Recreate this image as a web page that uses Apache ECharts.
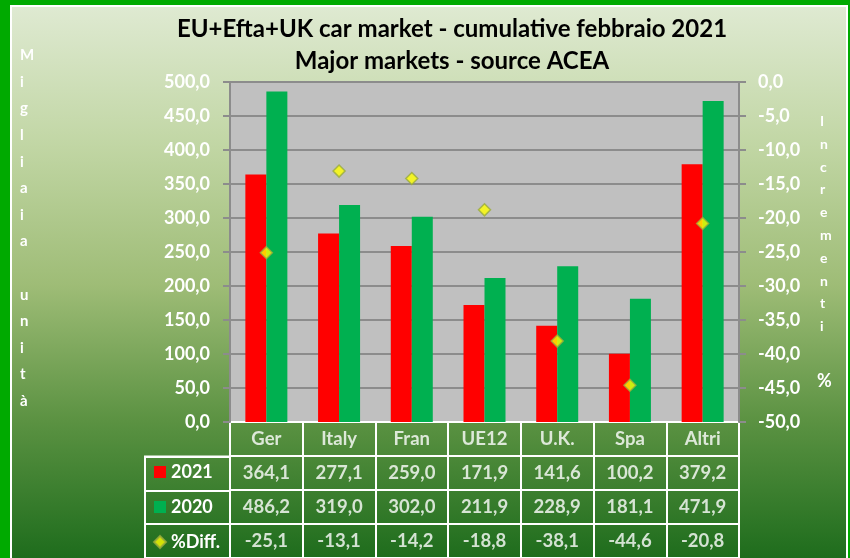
<!DOCTYPE html>
<html>
<head>
<meta charset="utf-8">
<script src="https://cdn.jsdelivr.net/npm/echarts@6/dist/echarts.min.js"></script>
<style>
  html, body { margin: 0; padding: 0; }
  #chart { width: 850px; height: 558px; }
</style>
</head>
<body>
<div id="chart"></div>
<script>
const categories = ["Ger", "Italy", "Fran", "UE12", "U.K.", "Spa", "Altri"];
const values2021 = [364.1, 277.1, 259.0, 171.9, 141.6, 100.2, 379.2];
const values2020 = [486.2, 319.0, 302.0, 211.9, 228.9, 181.1, 471.9];
const diffPct = [-25.1, -13.1, -14.2, -18.8, -38.1, -44.6, -20.8];
const rowNames = ["2021", "2020", "%Diff."];

const fontFamily = "Lato, 'Open Sans', sans-serif";
const fmt = (v) => Number(v).toFixed(1).replace(".", ",");

// celle della tabella sotto al grafico
const tableCells = [];
categories.forEach((cat, i) => {
  tableCells.push([cat, "h", cat]);
  tableCells.push([cat, "r21", fmt(values2021[i])]);
  tableCells.push([cat, "r20", fmt(values2020[i])]);
  tableCells.push([cat, "rd", fmt(diffPct[i])]);
});

const chart = echarts.init(document.getElementById("chart"));

const option = {
  backgroundColor: "#00aa00",
  animation: false,
  textStyle: { fontFamily: fontFamily },
  graphic: [
    {
      type: "rect",
      z: -100,
      shape: { x: 11, y: 6, width: 836, height: 560 },
      style: {
        stroke: "#ffffff",
        lineWidth: 2,
        fill: new echarts.graphic.LinearGradient(0, 0, 0, 1, [
          { offset: 0, color: "#dfead2" },
          { offset: 0.25, color: "#c1d6a4" },
          { offset: 0.5, color: "#9ebc76" },
          { offset: 0.74, color: "#5b9242" },
          { offset: 1, color: "#1a6a1a" },
        ]),
      },
    },
    {
      type: "text",
      left: 20,
      top: 42,
      style: {
        text: "M\ni\ng\nl\ni\na\ni\na\n \nu\nn\ni\nt\nà",
        fill: "#ffffff",
        font: "bold 15px " + fontFamily,
        align: "center",
        lineHeight: 26.6,
      },
    },
    {
      type: "text",
      left: 820,
      top: 110,
      style: {
        text: "I\nn\nc\nr\ne\nm\ne\nn\nt\ni",
        fill: "#ffffff",
        font: "bold 14px " + fontFamily,
        align: "center",
        lineHeight: 22.8,
      },
    },
    {
      type: "text",
      left: 817,
      top: 372,
      style: {
        text: "%",
        fill: "#ffffff",
        font: "bold 18px " + fontFamily,
      },
    },
  ],
  title: {
    text: "EU+Efta+UK car market - cumulative febbraio 2021\nMajor markets - source ACEA",
    left: 447,
    top: 8,
    textAlign: "center",
    textStyle: {
      fontFamily: fontFamily,
      fontSize: 24,
      fontWeight: "bold",
      color: "#000000",
      lineHeight: 32,
    },
  },
  legend: {
    orient: "vertical",
    left: 153,
    top: 462,
    padding: 0,
    itemWidth: 12,
    itemHeight: 12,
    itemGap: 15,
    selectedMode: false,
    textStyle: {
      color: "#ffffff",
      fontFamily: fontFamily,
      fontSize: 18,
      fontWeight: "bold",
      lineHeight: 20,
    },
    data: [
      { name: rowNames[0], icon: "rect" },
      { name: rowNames[1], icon: "rect" },
      { name: rowNames[2], icon: "diamond" },
    ],
  },
  grid: [
    {
      left: 230,
      right: 111,
      top: 82,
      height: 340,
      show: true,
      backgroundColor: "#c0c0c0",
      borderWidth: 0,
    },
    {
      left: 230,
      right: 111,
      top: 422,
      height: 138,
      show: true,
      borderColor: "#ffffff",
      borderWidth: 2,
    },
    {
      left: 145,
      width: 85,
      top: 456.5,
      height: 103.5,
      show: true,
      borderColor: "#ffffff",
      borderWidth: 2,
    },
  ],
  xAxis: [
    {
      type: "category",
      gridIndex: 0,
      data: categories,
      axisLine: { show: false },
      axisTick: { show: false },
      axisLabel: { show: false },
    },
    {
      type: "category",
      gridIndex: 1,
      data: categories,
      axisLine: { show: false },
      axisTick: { show: false },
      axisLabel: { show: false },
      splitLine: {
        show: true,
        interval: 0,
        lineStyle: { color: "#ffffff", width: 2 },
      },
    },
    {
      type: "value",
      gridIndex: 2,
      min: 0,
      max: 1,
      show: false,
    },
  ],
  yAxis: [
    {
      type: "value",
      gridIndex: 0,
      min: 0,
      max: 500,
      interval: 50,
      axisLine: { show: true, lineStyle: { color: "#8c8c8c", width: 2 } },
      axisTick: { show: true, length: 7, lineStyle: { color: "#8c8c8c", width: 2 } },
      splitLine: { show: true, lineStyle: { color: "#8c8c8c", width: 2 } },
      axisLabel: {
        margin: 20,
        color: "#ffffff",
        fontSize: 18,
        fontWeight: "bold",
        fontFamily: fontFamily,
        formatter: fmt,
      },
    },
    {
      type: "value",
      gridIndex: 0,
      position: "right",
      min: -50,
      max: 0,
      interval: 5,
      axisLine: { show: true, lineStyle: { color: "#8c8c8c", width: 2 } },
      axisTick: { show: true, length: 7, lineStyle: { color: "#8c8c8c", width: 2 } },
      splitLine: { show: false },
      axisLabel: {
        margin: 19,
        color: "#ffffff",
        fontSize: 18,
        fontWeight: "bold",
        fontFamily: fontFamily,
        formatter: fmt,
      },
    },
    {
      type: "category",
      gridIndex: 1,
      inverse: true,
      data: ["h", "r21", "r20", "rd"],
      axisLine: { show: false },
      axisTick: { show: false },
      axisLabel: { show: false },
      splitLine: {
        show: true,
        interval: 0,
        lineStyle: { color: "#ffffff", width: 2 },
      },
    },
    {
      type: "category",
      gridIndex: 2,
      inverse: true,
      data: rowNames,
      axisLine: { show: false },
      axisTick: { show: false },
      axisLabel: { show: false },
      splitLine: {
        show: true,
        interval: 0,
        lineStyle: { color: "#ffffff", width: 2 },
      },
    },
  ],
  series: [
    {
      name: rowNames[0],
      type: "bar",
      xAxisIndex: 0,
      yAxisIndex: 0,
      data: values2021,
      barWidth: 21,
      barGap: "0%",
      itemStyle: { color: "#ff0000" },
    },
    {
      name: rowNames[1],
      type: "bar",
      xAxisIndex: 0,
      yAxisIndex: 0,
      data: values2020,
      barWidth: 21,
      barGap: "0%",
      itemStyle: { color: "#00b050" },
    },
    {
      name: rowNames[2],
      type: "scatter",
      xAxisIndex: 0,
      yAxisIndex: 1,
      data: diffPct,
      symbol: "diamond",
      symbolSize: 12,
      itemStyle: { color: "#ffff00", borderColor: "#9aab3c", borderWidth: 1.5 },
      z: 5,
    },
    {
      name: "tabella",
      type: "scatter",
      xAxisIndex: 1,
      yAxisIndex: 2,
      silent: true,
      data: tableCells,
      symbolSize: 1,
      itemStyle: { color: "rgba(0,0,0,0)" },
      label: {
        show: true,
        position: "inside",
        color: "#ffffff",
        fontSize: 18.5,
        fontWeight: "bold",
        fontFamily: fontFamily,
        formatter: (p) => p.value[2],
      },
    },
  ],
};

chart.setOption(option);
</script>
</body>
</html>
